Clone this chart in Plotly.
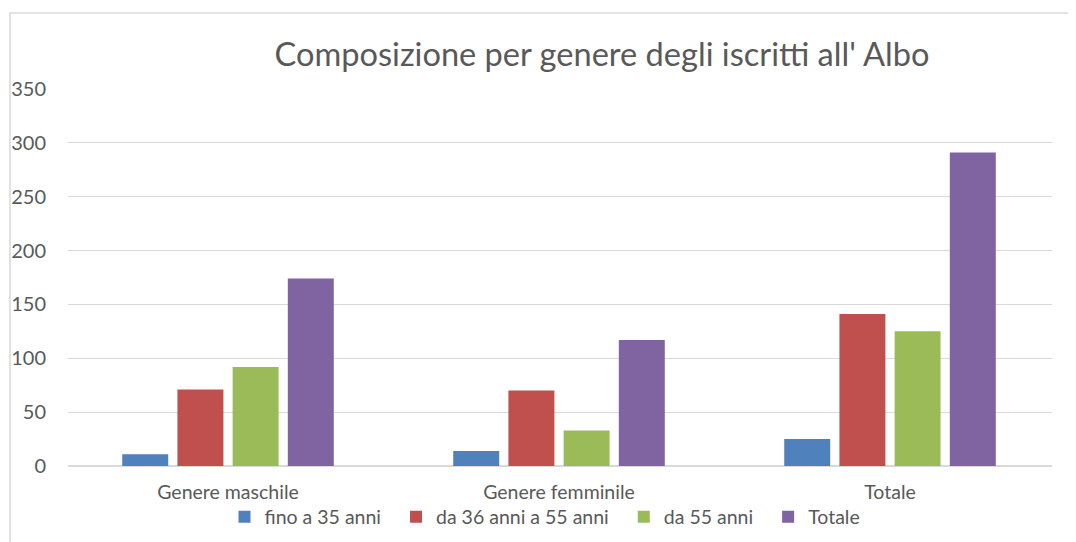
import plotly.graph_objects as go

categories = ["Genere maschile", "Genere femminile", "Totale"]
series_names = ["fino a 35 anni", "da 36 anni a 55 anni", "da 55 anni", "Totale"]
fino_35 = [11, 14, 25]
da_36_55 = [71, 70, 141]
da_55 = [92, 33, 125]
totale = [174, 117, 291]
y_ticks = [0, 50, 100, 150, 200, 250, 300, 350]

colors = ["#4F81BD", "#C0504D", "#9BBB59", "#8064A2"]
font_family = "Lato, 'Open Sans', sans-serif"
text_color = "#595959"

fig = go.Figure()
n = len(series_names)
for i, (name, vals, col) in enumerate(zip(series_names, [fino_35, da_36_55, da_55, totale], colors)):
    label = name + ("\u00a0\u00a0" if i < n - 1 else "")
    fig.add_trace(go.Bar(x=categories, y=vals, name=label, marker_color=col,
                         marker_line_width=0))

# page body has an 8px offset; positions below are compensated
OFF = 8
W, H = 1076, 542
L, T = 68 - OFF, 89 - OFF
R, B = W - (1052 - OFF), H - (466 - OFF)
pw, ph = W - L - R, H - T - B

fig.update_layout(
    width=W, height=H,
    margin=dict(l=L, r=R, t=T, b=B, autoexpand=False),
    paper_bgcolor="white", plot_bgcolor="white",
    font=dict(family=font_family, color=text_color, size=20),
    barmode="group", bargap=0.333, bargroupgap=0.167,
    title=dict(text="Composizione per genere degli iscritti all' Albo",
               x=(602 - OFF) / W, xanchor="center", xref="container",
               y=1 - (55 - OFF) / H, yanchor="middle", yref="container",
               font=dict(size=32.6, color=text_color, family=font_family)),
    legend=dict(orientation="h", x=(545 - 68) / pw, xanchor="center",
                yref="container", y=1 - (517 - OFF) / H, yanchor="middle",
                bgcolor="rgba(0,0,0,0)",
                font=dict(size=19.5, color=text_color), itemwidth=30,
                traceorder="normal"),
    showlegend=True,
)
fig.update_xaxes(range=[-0.4834, 2.4894], showgrid=False, showline=False, ticks="",
                 ticklabelstandoff=12, automargin=False,
                 tickfont=dict(size=19.5, color=text_color))
fig.update_yaxes(range=[0, 350], tickvals=y_ticks, showgrid=True, gridcolor="#D9D9D9",
                 gridwidth=1, zeroline=True, zerolinecolor="#D9D9D9", zerolinewidth=1.5,
                 showline=False, ticks="", ticklabelstandoff=21, automargin=False,
                 tickfont=dict(size=20, color=text_color))

# chart-area border
fig.add_shape(type="rect", xref="paper", yref="paper",
              x0=(10 - 68) / pw, x1=(1100 - 68) / pw,
              y0=-(560 - 466) / ph, y1=(466 - 13) / ph,
              line=dict(color="#D9D9D9", width=1.5), fillcolor="rgba(0,0,0,0)",
              layer="below")

fig.write_html("out.html")
